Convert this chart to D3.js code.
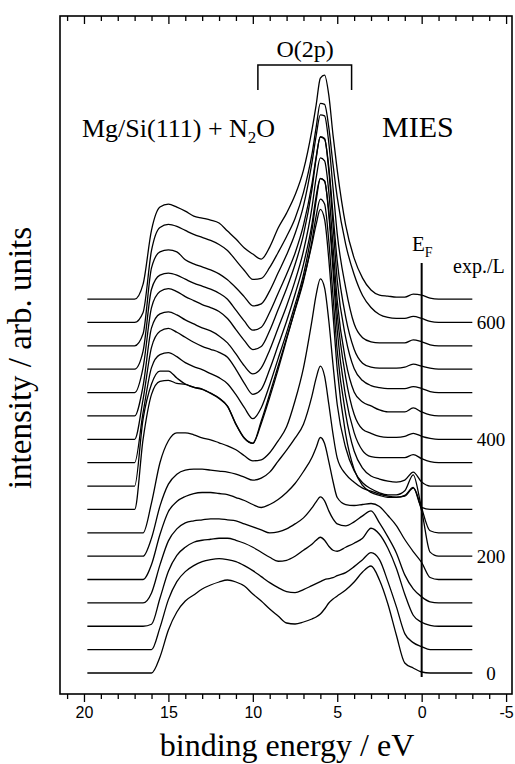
<!DOCTYPE html>
<html>
<head>
<meta charset="utf-8">
<script src="https://cdn.jsdelivr.net/npm/d3@7"></script>
<style>
  html, body { margin: 0; padding: 0; background: #ffffff; }
  svg { display: block; }
  .serif { font-family: "Liberation Serif", "Times New Roman", serif; fill: #000; }
  .axis text { font-family: "Liberation Sans", Arial, sans-serif; font-size: 16px; fill: #000; }
  .axis line { stroke: #000; stroke-width: 1.3px; }
  .spectrum { fill: none; stroke: #000; stroke-width: 1.3px; }
</style>
</head>
<body>
<div id="chart"></div>
<script>
// binding energies (eV) at which every spectrum was read
const energies = [19.8, 17, 16.5, 16, 15.5, 15, 14.5, 14, 13.5, 13, 12.5, 12, 11.5, 11, 10.5, 10,
  9.5, 9, 8.5, 8, 7.5, 7, 6.5, 6.25, 6, 5.75, 5.5, 5.25, 5, 4.5, 4, 3.5, 3, 2.5, 2, 1.5, 1, 0.5, 0, -0.5, -1, -3];

// N2O exposure (L) of each spectrum, bottom to top
const exposures = [0, 40, 80, 120, 160, 200, 240, 280, 320, 360, 400, 440, 480, 520, 560, 600, 640];
const exposureLabels = [0, 200, 400, 600];
const energyTicks = [20, 15, 10, 5, 0, -5];

// intensities (arb. units), one array per exposure
const int0 = [0, 0, 0, 0, 16, 43, 61, 72, 78, 84, 88, 91, 93, 91, 87, 79, 72, 64, 57, 50, 49, 51, 54, 56, 59, 64, 70, 74, 77, 83, 91, 101, 107, 93, 69, 38, 10, 5, 1, 0, 0, 0];
const int40 = [0, 0, 0, 0, 22, 50, 68, 78, 84, 88, 90, 91, 90, 88, 84, 79, 73, 67, 62, 58, 57, 60, 64, 66, 68, 70, 71, 72, 74, 77, 83, 90, 97, 90, 68, 43, 16, 7, 3, 0, 0, 0];
const int80 = [0, 0, 0, 2, 28, 55, 71, 79, 84, 86, 87, 88, 88, 86, 83, 79, 74, 69, 65, 66, 70, 76, 82, 86, 89, 86, 80, 76, 75, 79, 83, 88, 98, 92, 78, 58, 32, 11, 4, 1, 0, 0];
const int120 = [0, 0, 0, 10, 38, 62, 74, 80, 82, 83, 84, 84, 83, 82, 79, 76, 73, 70, 71, 74, 79, 85, 95, 101, 106, 102, 92, 84, 79, 77, 81, 87, 92, 80, 66, 50, 28, 14, 6, 1, 0, 0];
const int160 = [0, 0, 0, 15, 45, 68, 78, 83, 86, 87, 87, 86, 85, 82, 79, 75, 72, 75, 80, 87, 96, 108, 122, 132, 142, 136, 118, 98, 82, 75, 74, 75, 76, 73, 64, 54, 40, 28, 17, 2, 0, 0];
const int200 = [0, 0, 0, 18, 50, 72, 82, 86, 87, 87, 86, 85, 84, 82, 79, 76, 78, 84, 95, 106, 118, 132, 160, 178, 190, 180, 152, 122, 98, 82, 74, 68, 65, 62, 60, 59, 60, 68, 45, 4, 0, 0];
const int240 = [0, 0, 0, 30, 70, 92, 100, 100, 98, 95, 93, 90, 87, 83, 77, 72, 73, 80, 92, 106, 132, 165, 212, 238, 254, 245, 212, 168, 128, 85, 62, 50, 44, 40, 38, 38, 42, 58, 25, 2, 0, 0];
const int280 = [0, 0, 70, 115, 128, 129, 126, 125, 122, 120, 116, 111, 103, 85, 71, 66, 86, 112, 140, 170, 200, 230, 265, 285, 300, 290, 250, 195, 140, 75, 40, 24, 17, 14, 12, 12, 14, 22, 2, 0, 0, 0];
const int320 = [0, 0, 67, 102, 115, 115, 108, 102, 99, 97, 93, 88, 80, 62, 48, 43, 65, 92, 120, 148, 176, 205, 245, 270, 287, 282, 245, 190, 135, 72, 35, 18, 10, 7, 5, 4, 6, 14, 4, 0, 0, 0];
const int360 = [0, 0, 50, 95, 108, 110, 106, 100, 96, 93, 89, 85, 79, 68, 55, 44, 55, 78, 104, 130, 158, 188, 232, 262, 284, 282, 248, 192, 132, 66, 30, 12, 6, 5, 5, 5, 5, 8, 4, 1, 0, 0];
const int400 = [0, 0, 40, 92, 108, 111, 107, 102, 97, 93, 90, 87, 82, 70, 56, 45, 50, 70, 94, 118, 145, 175, 215, 243, 261, 258, 228, 178, 125, 62, 25, 10, 6, 3, 2, 2, 3, 6, 3, 1, 0, 0];
const int440 = [0, 0, 30, 88, 102, 104, 101, 96, 92, 88, 85, 80, 73, 62, 50, 42, 48, 66, 88, 110, 135, 165, 208, 238, 258, 255, 224, 170, 115, 55, 24, 14, 10, 6, 4, 4, 4, 8, 4, 1, 0, 0];
const int480 = [0, 0, 25, 85, 101, 104, 101, 96, 92, 88, 85, 81, 74, 63, 52, 43, 46, 62, 83, 104, 128, 158, 203, 234, 256, 254, 222, 168, 112, 55, 24, 12, 7, 5, 4, 4, 4, 6, 4, 1, 0, 0];
const int520 = [0, 0, 18, 80, 94, 96, 94, 90, 86, 83, 80, 76, 70, 59, 48, 39, 42, 57, 76, 95, 116, 144, 185, 212, 232, 230, 202, 155, 108, 52, 20, 6, 2, 1, 1, 1, 2, 5, 3, 1, 0, 0];
const int560 = [0, 0, 12, 78, 94, 96, 94, 86, 82, 79, 76, 72, 66, 58, 49, 40, 42, 55, 73, 91, 112, 140, 183, 210, 231, 230, 203, 158, 112, 58, 22, 8, 4, 3, 3, 3, 3, 6, 4, 1, 0, 0];
const int600 = [0, 0, 10, 72, 95, 98, 96, 92, 88, 85, 82, 78, 72, 62, 52, 43, 44, 55, 70, 86, 104, 130, 168, 195, 219, 218, 195, 158, 125, 78, 48, 27, 15, 8, 5, 4, 4, 6, 4, 1, 0, 0];
const int640 = [0, 0, 15, 69, 92, 95, 92, 88, 83, 81, 79, 76, 68, 60, 51, 45, 40, 52, 71, 86, 104, 129, 169, 194, 221, 224, 204, 164, 129, 74, 41, 21, 9, 4, 3, 2, 2, 5, 4, 1, 0, 0];

const spectra = [int0, int40, int80, int120, int160, int200, int240, int280, int320,
  int360, int400, int440, int480, int520, int560, int600, int640];

const width = 515;
const height = 764;
const plot = {left: 60, right: 512, top: 16, bottom: 694};

// stacking offset: arb. units per 40 L
const offsetPerStep = 23.37;

const x = d3.scaleLinear().domain([21.42, -5.35]).range([plot.left, plot.right]);
const y = d3.scaleLinear().domain([0, 657]).range([673, plot.top]);
const offset = (exp) => (exp / 40) * offsetPerStep;

const svg = d3
  .select("#chart")
  .append("svg")
  .attr("width", width)
  .attr("height", height);

svg.append("rect").attr("width", width).attr("height", height).attr("fill", "#ffffff");

// spectra
const line = d3
  .line()
  .x((d) => x(d.e))
  .y((d) => y(d.v))
  .curve(d3.curveMonotoneX);

svg
  .append("g")
  .selectAll("path")
  .data(spectra.map((values, i) =>
    values.map((v, j) => ({e: energies[j], v: v + offset(exposures[i])}))))
  .enter()
  .append("path")
  .attr("class", "spectrum")
  .attr("d", line);

// Fermi level
svg
  .append("line")
  .attr("x1", x(0))
  .attr("x2", x(0))
  .attr("y1", 263)
  .attr("y2", 677)
  .attr("stroke", "#000")
  .attr("stroke-width", 2);

// frame
svg
  .append("rect")
  .attr("x", plot.left)
  .attr("y", plot.top)
  .attr("width", plot.right - plot.left)
  .attr("height", plot.bottom - plot.top)
  .attr("fill", "none")
  .attr("stroke", "#000")
  .attr("stroke-width", 1.6);

// bottom axis: minor then major ticks
const minor = d3.range(-5, 22).filter((d) => d % 5 !== 0);

svg
  .append("g")
  .attr("class", "axis")
  .attr("transform", `translate(0,${plot.bottom})`)
  .call(d3.axisBottom(x).tickValues(minor).tickSize(5).tickFormat(""))
  .call((g) => g.select(".domain").remove());

svg
  .append("g")
  .attr("class", "axis")
  .attr("transform", `translate(0,${plot.bottom})`)
  .call(
    d3
      .axisBottom(x)
      .tickValues(energyTicks)
      .tickSize(8)
      .tickPadding(5)
      .tickFormat((d) => String(d)),
  )
  .call((g) => g.select(".domain").remove());

// top axis, ticks pointing inwards
svg
  .append("g")
  .attr("class", "axis")
  .attr("transform", `translate(0,${plot.top})`)
  .call(d3.axisBottom(x).tickValues(minor).tickSize(5).tickFormat(""))
  .call((g) => g.select(".domain").remove());

svg
  .append("g")
  .attr("class", "axis")
  .attr("transform", `translate(0,${plot.top})`)
  .call(d3.axisBottom(x).tickValues(energyTicks).tickSize(8).tickFormat(""))
  .call((g) => g.select(".domain").remove());

// exposure labels on the right
svg
  .append("g")
  .selectAll("text")
  .data(exposureLabels)
  .enter()
  .append("text")
  .attr("class", "serif")
  .attr("x", 491)
  .attr("y", (d) => y(offset(d)) + 7)
  .attr("text-anchor", "middle")
  .attr("font-size", 19)
  .text((d) => d);

svg
  .append("text")
  .attr("class", "serif")
  .attr("x", 453)
  .attr("y", 273)
  .attr("font-size", 20)
  .text("exp./L");

// E_F label
const ef = svg
  .append("text")
  .attr("class", "serif")
  .attr("x", 412)
  .attr("y", 251)
  .attr("font-size", 21);
ef.append("tspan").text("E");
ef.append("tspan").attr("font-size", 14).attr("dy", 6).text("F");

// O(2p) bracket
svg
  .append("path")
  .attr("d", `M${x(9.7)},90V65H${x(4.15)}V90`)
  .attr("fill", "none")
  .attr("stroke", "#000")
  .attr("stroke-width", 1.5);

svg
  .append("text")
  .attr("class", "serif")
  .attr("x", x(6.9))
  .attr("y", 57)
  .attr("text-anchor", "middle")
  .attr("font-size", 24)
  .text("O(2p)");

const title = svg
  .append("text")
  .attr("class", "serif")
  .attr("x", 82)
  .attr("y", 137)
  .attr("font-size", 26);
title.append("tspan").text("Mg/Si(111) + N");
title.append("tspan").attr("font-size", 17).attr("dy", 6).text("2");
title.append("tspan").attr("dy", -6).text("O");

svg
  .append("text")
  .attr("class", "serif")
  .attr("x", 382)
  .attr("y", 137)
  .attr("font-size", 30)
  .text("MIES");

// axis titles
svg
  .append("text")
  .attr("class", "serif")
  .attr("x", 287)
  .attr("y", 756)
  .attr("text-anchor", "middle")
  .attr("font-size", 32)
  .text("binding energy / eV");

svg
  .append("text")
  .attr("class", "serif")
  .attr("transform", "translate(31,358) rotate(-90)")
  .attr("text-anchor", "middle")
  .attr("font-size", 33)
  .text("intensity / arb. units");
</script>
</body>
</html>
